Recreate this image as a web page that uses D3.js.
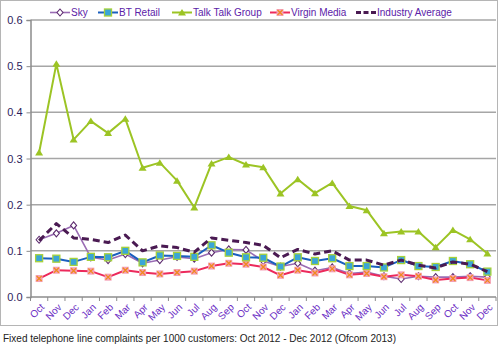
<!DOCTYPE html>
<html>
<head>
<meta charset="utf-8">
<script src="https://cdn.jsdelivr.net/npm/d3@7"></script>
<style>
  html, body { margin: 0; padding: 0; background: #fff; }
  svg { display: block; }
</style>
</head>
<body>
<div id="chart"></div>
<script>
// Plaintes ligne fixe pour 1000 clients, Oct 2010 -> Dec 2012
const months = ["Oct","Nov","Dec","Jan","Feb","Mar","Apr","May","Jun","Jul","Aug","Sep",
  "Oct","Nov","Dec","Jan","Feb","Mar","Apr","May","Jun","Jul","Aug","Sep","Oct","Nov","Dec"]

const sky = [0.124,0.138,0.155,0.086,0.080,0.093,0.073,0.080,0.087,0.083,0.096,0.103,
  0.102,0.078,0.066,0.073,0.057,0.064,0.051,0.054,0.045,0.039,0.045,0.043,0.043,0.045,0.043]
const btRetail = [0.084,0.083,0.076,0.087,0.086,0.100,0.075,0.090,0.089,0.087,0.112,0.096,
  0.086,0.085,0.066,0.086,0.078,0.084,0.067,0.067,0.064,0.080,0.067,0.065,0.078,0.071,0.055]
const talkTalk = [0.313,0.505,0.341,0.381,0.355,0.386,0.280,0.291,0.252,0.194,0.289,0.303,
  0.287,0.281,0.224,0.255,0.225,0.247,0.197,0.188,0.138,0.142,0.142,0.108,0.145,0.125,0.094]
const virgin = [0.040,0.058,0.057,0.056,0.043,0.058,0.053,0.050,0.053,0.056,0.067,0.073,
  0.071,0.065,0.047,0.058,0.052,0.061,0.048,0.051,0.044,0.048,0.045,0.037,0.040,0.042,0.036]
const industry = [0.122,0.159,0.128,0.125,0.118,0.134,0.100,0.111,0.107,0.097,0.128,0.123,
  0.118,0.112,0.085,0.103,0.093,0.100,0.080,0.080,0.069,0.080,0.069,0.063,0.076,0.071,0.055]

const yTicks = [0, 0.1, 0.2, 0.3, 0.4, 0.5, 0.6]

const series = [
  { name: "Sky", values: sky, line: "#9a6cb4", width: 1.6, marker: "diamond" },
  { name: "BT Retail", values: btRetail, line: "#1a5fbf", width: 2, marker: "square" },
  { name: "Talk Talk Group", values: talkTalk, line: "#9cc424", width: 2, marker: "triangle" },
  { name: "Virgin Media", values: virgin, line: "#ec2a5c", width: 2, marker: "cross" },
  { name: "Industry Average", values: industry, line: "#4a1a52", width: 3, marker: null, dash: "7,4" },
]

const W = 500, H = 350
const plot = { left: 30.5, right: 496, top: 20, bottom: 297 }
const FONT = "'Liberation Sans', Arial, sans-serif"

const svg = d3.select("#chart").append("svg")
  .attr("width", W).attr("height", H)
  .attr("font-family", FONT)

// Cadre du graphique
svg.append("rect")
  .attr("x", 0.5).attr("y", 0.5).attr("width", 497).attr("height", 325)
  .attr("fill", "none").attr("stroke", "#b5b5b5")

const x = d3.scaleBand().domain(d3.range(months.length)).range([plot.left, plot.right])
const y = d3.scaleLinear().domain([0, 0.6]).range([plot.bottom, plot.top])
const cx = i => x(i) + x.bandwidth() / 2

// Grille horizontale
svg.append("g")
  .selectAll("line")
  .data(yTicks.filter(d => d > 0))
  .join("line")
  .attr("x1", plot.left).attr("x2", plot.right)
  .attr("y1", d => y(d)).attr("y2", d => y(d))
  .attr("stroke", "#a6a6a6").attr("stroke-width", 1.5)

// Axe Y
const yAxis = svg.append("g")
  .attr("transform", `translate(${plot.left},0)`)
  .call(d3.axisLeft(y).tickValues(yTicks).tickFormat(d3.format(".1f")).tickSize(4).tickPadding(4))
yAxis.select(".domain").attr("stroke", "#8c8c8c").attr("stroke-width", 1.5)
yAxis.selectAll(".tick line").attr("stroke", "#8c8c8c")
yAxis.selectAll("text").attr("font-size", 11).attr("fill", "#2e1c5a")
  .attr("font-family", FONT)

// Axe X : repères aux limites des catégories
const xg = svg.append("g")
xg.append("line")
  .attr("x1", plot.left).attr("x2", plot.right)
  .attr("y1", plot.bottom).attr("y2", plot.bottom)
  .attr("stroke", "#8c8c8c").attr("stroke-width", 1.5)
xg.selectAll("line.tk")
  .data(d3.range(months.length + 1))
  .join("line")
  .attr("class", "tk")
  .attr("x1", i => plot.left + i * x.step()).attr("x2", i => plot.left + i * x.step())
  .attr("y1", plot.bottom).attr("y2", plot.bottom + 4)
  .attr("stroke", "#8c8c8c")
xg.selectAll("text")
  .data(months)
  .join("text")
  .attr("transform", (_, i) => `translate(${cx(i) + 4},${plot.bottom + 9}) rotate(-45)`)
  .attr("text-anchor", "end")
  .attr("dominant-baseline", "middle")
  .attr("font-size", 10)
  .attr("fill", "#6a2cc4")
  .text(d => d)

// Lignes
const line = d3.line().x((_, i) => cx(i)).y(d => y(d))
const order = ["Sky", "Virgin Media", "BT Retail", "Industry Average", "Talk Talk Group"]
const byName = Object.fromEntries(series.map(s => [s.name, s]))

function drawMarker(g, type, px, py) {
  if (type === "diamond") {
    g.append("path").attr("d", `M${px},${py - 3.5}L${px + 3},${py}L${px},${py + 3.5}L${px - 3},${py}Z`)
      .attr("fill", "#fff").attr("stroke", "#5c2a6e").attr("stroke-width", 1.1)
  } else if (type === "square") {
    g.append("rect").attr("x", px - 3.5).attr("y", py - 3.5).attr("width", 7).attr("height", 7)
      .attr("fill", "#3aa6d6").attr("stroke", "#a6d13a").attr("stroke-width", 1.3)
  } else if (type === "triangle") {
    g.append("path").attr("d", `M${px},${py - 3.5}L${px + 4},${py + 3}L${px - 4},${py + 3}Z`)
      .attr("fill", "#9cc424")
  } else if (type === "cross") {
    g.append("rect").attr("x", px - 3.5).attr("y", py - 3.5).attr("width", 7).attr("height", 7)
      .attr("fill", "#f5a0b6")
    g.append("path").attr("d", `M${px - 2.5},${py - 2.5}L${px + 2.5},${py + 2.5}M${px + 2.5},${py - 2.5}L${px - 2.5},${py + 2.5}`)
      .attr("stroke", "#f08a1e").attr("stroke-width", 1.3)
  }
}

order.forEach(name => {
  const s = byName[name]
  const g = svg.append("g")
  g.append("path")
    .datum(s.values)
    .attr("d", line)
    .attr("fill", "none")
    .attr("stroke", s.line)
    .attr("stroke-width", s.width)
    .attr("stroke-dasharray", s.dash || null)
    .attr("stroke-linejoin", "round")
  if (s.marker) s.values.forEach((v, i) => drawMarker(g, s.marker, cx(i), y(v)))
})

// Légende
const legendX = [50, 98, 172, 270, 356]
const lg = svg.append("g")
series.forEach((s, k) => {
  const lx = legendX[k], ly = 12.5
  lg.append("line")
    .attr("x1", lx).attr("x2", lx + 20).attr("y1", ly).attr("y2", ly)
    .attr("stroke", s.line).attr("stroke-width", s.width)
    .attr("stroke-dasharray", s.dash ? "5,2.5" : null)
  if (s.marker) drawMarker(lg, s.marker, lx + 10, ly)
  lg.append("text")
    .attr("x", lx + 21).attr("y", ly + 0.5)
    .attr("dominant-baseline", "middle")
    .attr("font-size", 10)
    .attr("fill", "#5b22a8")
    .text(s.name)
})

// Légende sous le graphique
svg.append("text")
  .attr("x", 3).attr("y", 342)
  .attr("font-size", 11)
  .attr("fill", "#222")
  .attr("textLength", 393)
  .attr("lengthAdjust", "spacingAndGlyphs")
  .text("Fixed telephone line complaints per 1000 customers: Oct 2012 - Dec 2012 (Ofcom 2013)")
</script>
</body>
</html>
